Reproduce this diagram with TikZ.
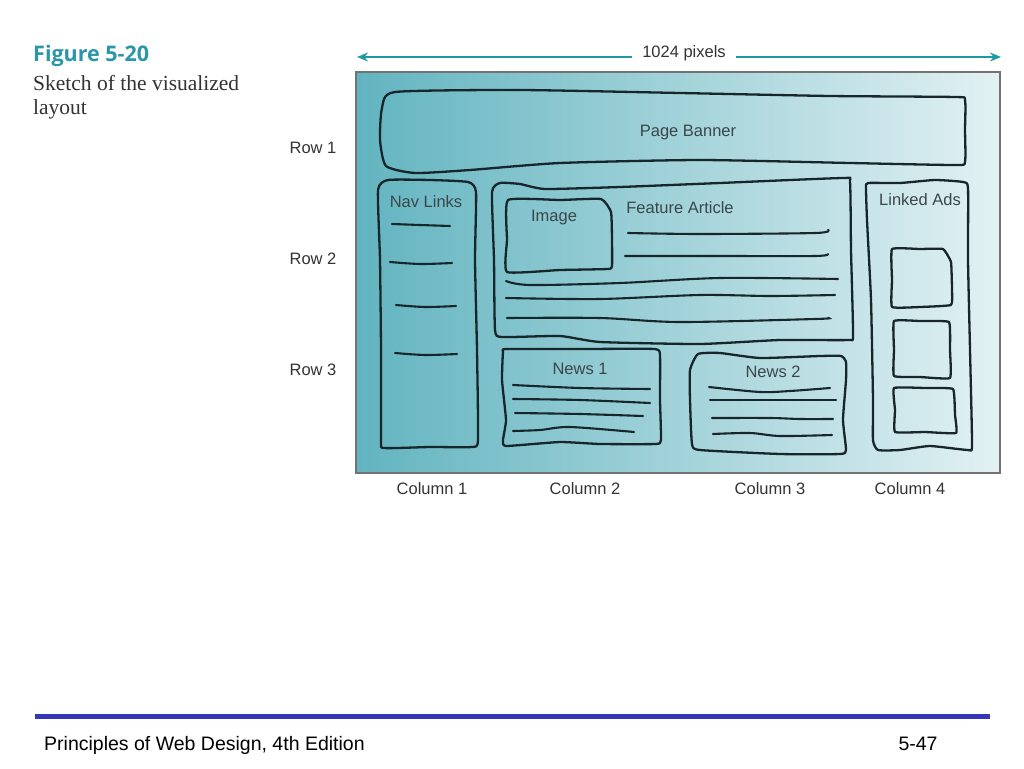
\documentclass[tikz,border=0pt]{standalone}
\usepackage{fontspec}
\setmainfont{Liberation Serif}
\setsansfont{Liberation Sans}
\newfontfamily\titlefont{Open Sans}
\usetikzlibrary{arrows.meta}
\definecolor{inkc}{HTML}{17262A}
\definecolor{tealL}{HTML}{62B4C0}
\definecolor{tealR}{HTML}{E2F1F3}
\definecolor{arrowc}{HTML}{1E9AA2}
\definecolor{titlec}{HTML}{2A96A8}
\definecolor{labc}{HTML}{333333}
\definecolor{footc}{HTML}{3636B8}
\begin{document}
\begin{tikzpicture}[x=1pt,y=-1pt,
  sk/.style={draw=inkc, line width=2.3pt, line cap=round, line join=round},
  skl/.style={draw=inkc, line width=2.1pt, line cap=round},
  lab/.style={font=\sffamily\fontsize{16.5}{18}\selectfont, text=labc, inner sep=0pt},
  boxlab/.style={font=\sffamily\fontsize{16.5}{18}\selectfont, text=inkc!85, inner sep=0pt}]
\useasboundingbox[fill=white] (0,0) rectangle (1024,768);

% title
\node[anchor=base west, inner sep=0pt, font=\titlefont\bfseries\fontsize{21.5}{24}\selectfont, text=titlec] (fig) at (33,62) {Figure 5-20};
\node[anchor=base west, inner sep=0pt, font=\fontsize{21.5}{24}\selectfont, text=labc] (cap1) at (33,90) {Sketch of the visualized};
\node[anchor=base west, inner sep=0pt, font=\fontsize{21.5}{24}\selectfont, text=labc] (cap2) at (33,114) {layout};

% width arrow
\coordinate (aL) at (357,57);
\coordinate (aR) at (1001,57);
\node[lab, font=\sffamily\fontsize{16.5}{18}\selectfont] (px) at (684,53) {1024 pixels};
\draw[arrowc, line width=1.8pt, -{Stealth[length=11pt,width=9pt]}] (px.west) ++(-10,4) -- (aL);
\draw[arrowc, line width=1.8pt, -{Stealth[length=11pt,width=9pt]}] (px.east) ++(10,4) -- (aR);

% main panel
\shade[left color=tealL, right color=tealR, middle color=tealL!50!tealR] (356,72) rectangle (1000,473);
\draw[draw=black!55, line width=2.4pt] (356,72) rectangle (1000,473);

% Page banner
\draw[sk] plot[smooth cycle, tension=0.35] coordinates {
 (395,92) (520,90) (680,93) (830,96) (955,97) (965,100) (965,130) (965,162) (955,165)
 (850,163) (700,160) (560,163) (470,170) (415,173) (386,166) (380,140) (382,108)};
\node[boxlab] (banner) at (688,133) {Page Banner};

% Nav links
\draw[sk] plot[smooth cycle, tension=0.3] coordinates {
 (388,180) (430,180) (468,182) (476,192) (475,260) (477,350) (478,440) (472,447)
 (430,447) (384,448) (381,440) (381,350) (380,260) (378,190)};
\node[boxlab] (nav) at (426,202) {Nav Links};
\draw[skl] plot[smooth, tension=0.5] coordinates {(392,224) (420,225) (450,226)};
\draw[skl] plot[smooth, tension=0.5] coordinates {(390,262) (420,264) (452,263)};
\draw[skl] plot[smooth, tension=0.5] coordinates {(396,305) (425,307) (456,306)};
\draw[skl] plot[smooth, tension=0.5] coordinates {(395,353) (425,355) (457,354)};

% Feature article
\draw[sk] plot[smooth cycle, tension=0.3] coordinates {
 (500,183) (520,184) (545,189) (620,187) (720,183) (843,178) (850,182) (851,250) (853,335) (848,340)
 (780,340) (700,344) (600,342) (560,336) (502,337) (495,330) (494,260) (492,192)};
\node[boxlab] (feat) at (680,208) {Feature Article};
\draw[sk] plot[smooth cycle, tension=0.25] coordinates {
 (508,200) (560,200) (601,199) (611,212) (612,240) (612,266) (608,269) (560,270) (507,272) (507,240)};
\node[boxlab] (img) at (554,218) {Image};
\draw[skl] plot[smooth, tension=0.5] coordinates {(628,233) (700,234) (815,233) (828,230)};
\draw[skl] plot[smooth, tension=0.5] coordinates {(625,256) (720,256) (815,256) (828,254)};
\draw[skl] plot[smooth, tension=0.5] coordinates {(506,281) (530,285) (620,283) (720,278) (838,279)};
\draw[skl] plot[smooth, tension=0.5] coordinates {(506,298) (600,299) (700,295) (770,296) (835,295)};
\draw[skl] plot[smooth, tension=0.5] coordinates {(507,318) (600,318) (680,322) (815,319) (828,318)};

% News 1
\draw[sk] plot[smooth cycle, tension=0.25] coordinates {
 (506,349) (580,349) (655,349) (660,356) (660,400) (661,440) (656,444) (600,444)
 (560,442) (506,446) (503,440) (506,420) (502,380) (503,352)};
\node[boxlab] (n1) at (580,369) {News 1};
\draw[skl] plot[smooth, tension=0.5] coordinates {(513,385) (580,388) (650,389)};
\draw[skl] plot[smooth, tension=0.5] coordinates {(513,399) (580,400) (650,403)};
\draw[skl] plot[smooth, tension=0.5] coordinates {(515,413) (580,414) (643,416)};
\draw[skl] plot[smooth, tension=0.5] coordinates {(513,431) (540,430) (570,427) (634,432)};

% News 2
\draw[sk] plot[smooth cycle, tension=0.3] coordinates {
 (698,354) (720,353) (760,358) (820,356) (841,356) (846,362) (846,380) (843,420) (846,450) (840,454)
 (780,454) (700,450) (692,444) (690,400) (690,370)};
\node[boxlab] (n2) at (773,372) {News 2};
\draw[skl] plot[smooth, tension=0.5] coordinates {(709,387) (760,392) (790,391) (830,388)};
\draw[skl] plot[smooth, tension=0.5] coordinates {(710,400) (770,400) (836,400)};
\draw[skl] plot[smooth, tension=0.5] coordinates {(712,418) (770,418) (800,419) (833,419)};
\draw[skl] plot[smooth, tension=0.5] coordinates {(713,434) (750,433) (780,436) (832,435)};

% Linked ads
\draw[sk] plot[smooth cycle, tension=0.3] coordinates {
 (868,183) (900,183) (935,180) (963,182) (968,188) (968,260) (970,350) (972,445) (968,450)
 (930,446) (900,450) (878,450) (873,440) (873,400) (871,300) (867,220) (866,188)};
\node[boxlab] (ads) at (920,200) {Linked Ads};
\draw[sk] plot[smooth cycle, tension=0.2] coordinates {
 (892,249) (920,249) (943,249) (951,262) (952,290) (951,305) (920,307) (892,307) (892,280)};
\draw[sk] plot[smooth cycle, tension=0.2] coordinates {
 (894,321) (920,321) (949,322) (950,350) (950,378) (920,377) (894,376) (894,350)};
\draw[sk] plot[smooth cycle, tension=0.2] coordinates {
 (894,388) (925,388) (953,389) (955,415) (956,433) (925,432) (895,432) (895,410)};

% row / column labels
\node[lab] (r1) at (313,148) {Row 1};
\node[lab] (r2) at (313,259) {Row 2};
\node[lab] (r3) at (313,370) {Row 3};
\node[lab] (c1) at (432,489) {Column 1};
\node[lab] (c2) at (585,489) {Column 2};
\node[lab] (c3) at (770,489) {Column 3};
\node[lab] (c4) at (910,489) {Column 4};

% footer
\fill[footc] (35,714) rectangle (990,719);
\node[anchor=base west, inner sep=0pt, font=\sffamily\fontsize{19.5}{22}\selectfont, text=black] (foot) at (44,750) {Principles of Web Design, 4th Edition};
\node[anchor=base, inner sep=0pt, font=\sffamily\fontsize{19.5}{22}\selectfont, text=black] (pg) at (918,750) {5-47};
\end{tikzpicture}
\end{document}
